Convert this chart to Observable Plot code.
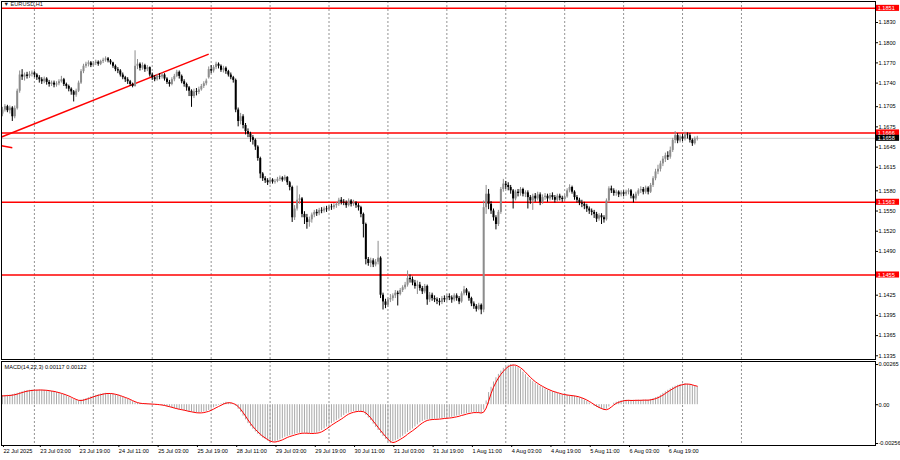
<!DOCTYPE html>
<html><head><meta charset="utf-8">
<script src="https://cdn.jsdelivr.net/npm/d3@7"></script>
<script src="https://cdn.jsdelivr.net/npm/@observablehq/plot@0.6"></script>
<style>
body{margin:0;background:#fff;}
#chart{width:900px;height:460px;overflow:hidden;}
#chart svg{display:block;}
</style></head><body><div id="chart"></div>
<script>
// ---------- DATA ----------
const symbolTitle = "\u25BC EURUSD,H1";
const macdTitle = "MACD(14,22,3) 0.00117 0.00122";

// hourly bars, index 0 = 22 Jul 2025 12:00 (weekend hours skipped)
const opens = [
1.1694,1.1700,1.1705,1.1699,1.1703,1.1690,1.1702,1.1728,1.1752,1.1749,
1.1752,1.1750,1.1753,1.1755,1.1752,1.1748,1.1745,1.1742,1.1746,1.1741,
1.1738,1.1740,1.1737,1.1739,1.1742,1.1745,1.1738,1.1735,1.1731,1.1727,
1.1722,1.1728,1.1740,1.1757,1.1765,1.1768,1.1770,1.1766,1.1769,1.1771,
1.1768,1.1772,1.1774,1.1776,1.1773,1.1770,1.1765,1.1760,1.1758,1.1752,
1.1748,1.1745,1.1742,1.1738,1.1735,1.1765,1.1768,1.1762,1.1766,1.1760,
1.1763,1.1752,1.1748,1.1745,1.1750,1.1749,1.1752,1.1746,1.1741,1.1738,
1.1745,1.1750,1.1756,1.1750,1.1742,1.1738,1.1733,1.1728,1.1720,1.1727,
1.1726,1.1730,1.1735,1.1739,1.1748,1.1760,1.1758,1.1763,1.1768,1.1765,
1.1759,1.1762,1.1757,1.1752,1.1748,1.1744,1.1700,1.1683,1.1690,1.1677,
1.1668,1.1664,1.1659,1.1655,1.1645,1.1628,1.1605,1.1598,1.1595,1.1592,
1.1596,1.1593,1.1594,1.1597,1.1599,1.1596,1.1600,1.1592,1.1585,1.1540,
1.1553,1.1566,1.1568,1.1545,1.1540,1.1533,1.1537,1.1544,1.1548,1.1546,
1.1551,1.1550,1.1553,1.1552,1.1556,1.1555,1.1558,1.1560,1.1566,1.1563,
1.1562,1.1558,1.1565,1.1560,1.1562,1.1558,1.1555,1.1545,1.1530,1.1478,
1.1472,1.1476,1.1470,1.1474,1.1480,1.1425,1.1415,1.1410,1.1418,1.1420,
1.1424,1.1428,1.1426,1.1432,1.1436,1.1440,1.1450,1.1448,1.1443,1.1438,
1.1440,1.1435,1.1430,1.1438,1.1418,1.1425,1.1420,1.1418,1.1416,1.1414,
1.1420,1.1418,1.1423,1.1421,1.1418,1.1424,1.1420,1.1415,1.1427,1.1433,
1.1428,1.1420,1.1412,1.1408,1.1404,1.1410,1.1403,1.1555,1.1575,1.1560,
1.1550,1.1540,1.1530,1.1548,1.1582,1.1590,1.1588,1.1585,1.1580,1.1568,
1.1578,1.1576,1.1582,1.1575,1.1577,1.1570,1.1565,1.1572,1.1568,1.1574,
1.1563,1.1570,1.1572,1.1568,1.1573,1.1570,1.1566,1.1572,1.1569,1.1567,
1.1571,1.1580,1.1585,1.1578,1.1570,1.1566,1.1562,1.1560,1.1557,1.1553,
1.1550,1.1548,1.1545,1.1538,1.1543,1.1540,1.1537,1.1565,1.1583,1.1580,
1.1576,1.1578,1.1574,1.1577,1.1575,1.1578,1.1580,1.1572,1.1568,1.1575,
1.1580,1.1582,1.1578,1.1584,1.1578,1.1588,1.1598,1.1608,1.1612,1.1620,
1.1627,1.1632,1.1630,1.1640,1.1655,1.1662,1.1654,1.1660,1.1657,1.1663,
1.1662,1.1655,1.1650,1.1657];
const highs = [
1.1704,1.1708,1.1707,1.1706,1.1705,1.1706,1.1731,1.1758,1.1760,1.1755,
1.1756,1.1757,1.1758,1.1757,1.1754,1.1751,1.1748,1.1749,1.1748,1.1744,
1.1743,1.1743,1.1742,1.1745,1.1750,1.1747,1.1740,1.1737,1.1733,1.1729,
1.1731,1.1743,1.1760,1.1768,1.1771,1.1773,1.1772,1.1772,1.1774,1.1773,
1.1774,1.1777,1.1779,1.1778,1.1775,1.1771,1.1767,1.1763,1.1760,1.1755,
1.1750,1.1748,1.1744,1.1740,1.1788,1.1775,1.1770,1.1770,1.1768,1.1766,
1.1764,1.1755,1.1751,1.1753,1.1754,1.1755,1.1754,1.1748,1.1744,1.1748,
1.1753,1.1759,1.1758,1.1752,1.1745,1.1740,1.1735,1.1730,1.1731,1.1732,
1.1734,1.1738,1.1742,1.1746,1.1764,1.1766,1.1766,1.1771,1.1770,1.1767,
1.1765,1.1764,1.1759,1.1755,1.1750,1.1746,1.1703,1.1695,1.1693,1.1680,
1.1672,1.1667,1.1662,1.1657,1.1647,1.1630,1.1607,1.1601,1.1598,1.1599,
1.1598,1.1597,1.1600,1.1602,1.1601,1.1603,1.1601,1.1594,1.1587,1.1558,
1.1587,1.1574,1.1570,1.1549,1.1545,1.1541,1.1547,1.1551,1.1552,1.1554,
1.1555,1.1556,1.1557,1.1559,1.1560,1.1561,1.1563,1.1569,1.1570,1.1567,
1.1565,1.1568,1.1567,1.1566,1.1564,1.1561,1.1557,1.1547,1.1532,1.1481,
1.1480,1.1479,1.1478,1.1505,1.1482,1.1428,1.1419,1.1421,1.1426,1.1427,
1.1432,1.1431,1.1435,1.1439,1.1444,1.1461,1.1455,1.1452,1.1447,1.1446,
1.1444,1.1438,1.1441,1.1440,1.1429,1.1428,1.1424,1.1421,1.1420,1.1423,
1.1424,1.1426,1.1427,1.1424,1.1427,1.1427,1.1423,1.1430,1.1438,1.1435,
1.1430,1.1422,1.1415,1.1411,1.1413,1.1412,1.1565,1.1588,1.1582,1.1564,
1.1553,1.1543,1.1551,1.1585,1.1597,1.1594,1.1592,1.1588,1.1582,1.1581,
1.1582,1.1585,1.1584,1.1580,1.1580,1.1573,1.1575,1.1576,1.1578,1.1577,
1.1574,1.1576,1.1575,1.1576,1.1577,1.1573,1.1575,1.1575,1.1572,1.1574,
1.1583,1.1589,1.1587,1.1580,1.1573,1.1569,1.1566,1.1563,1.1560,1.1556,
1.1553,1.1551,1.1548,1.1546,1.1546,1.1543,1.1568,1.1586,1.1587,1.1583,
1.1581,1.1580,1.1580,1.1580,1.1581,1.1583,1.1582,1.1575,1.1578,1.1583,
1.1586,1.1585,1.1587,1.1586,1.1591,1.1601,1.1612,1.1618,1.1624,1.1631,
1.1636,1.1638,1.1645,1.1658,1.1668,1.1665,1.1663,1.1664,1.1667,1.1666,
1.1665,1.1657,1.1660,1.1661];
const lows = [
1.1690,1.1697,1.1696,1.1694,1.1683,1.1687,1.1700,1.1725,1.1744,1.1743,
1.1746,1.1747,1.1749,1.1748,1.1744,1.1740,1.1738,1.1739,1.1737,1.1734,
1.1735,1.1733,1.1734,1.1736,1.1740,1.1735,1.1731,1.1727,1.1722,1.1712,
1.1719,1.1726,1.1738,1.1754,1.1762,1.1764,1.1763,1.1764,1.1766,1.1765,
1.1766,1.1769,1.1771,1.1770,1.1767,1.1762,1.1757,1.1754,1.1749,1.1745,
1.1741,1.1738,1.1735,1.1733,1.1734,1.1760,1.1758,1.1759,1.1756,1.1757,
1.1749,1.1744,1.1742,1.1743,1.1745,1.1746,1.1743,1.1738,1.1734,1.1736,
1.1742,1.1748,1.1746,1.1739,1.1734,1.1728,1.1720,1.1704,1.1717,1.1721,
1.1723,1.1728,1.1732,1.1736,1.1746,1.1754,1.1755,1.1760,1.1761,1.1756,
1.1755,1.1753,1.1749,1.1745,1.1740,1.1696,1.1675,1.1678,1.1672,1.1663,
1.1659,1.1652,1.1648,1.1640,1.1624,1.1598,1.1594,1.1591,1.1588,1.1589,
1.1590,1.1590,1.1592,1.1594,1.1593,1.1594,1.1588,1.1580,1.1533,1.1536,
1.1550,1.1560,1.1540,1.1530,1.1523,1.1526,1.1532,1.1540,1.1542,1.1543,
1.1546,1.1547,1.1548,1.1550,1.1551,1.1552,1.1554,1.1557,1.1559,1.1558,
1.1554,1.1556,1.1556,1.1557,1.1554,1.1550,1.1540,1.1510,1.1470,1.1468,
1.1466,1.1466,1.1467,1.1470,1.1420,1.1403,1.1405,1.1407,1.1414,1.1416,
1.1420,1.1409,1.1424,1.1429,1.1433,1.1437,1.1443,1.1439,1.1434,1.1426,
1.1431,1.1426,1.1427,1.1410,1.1414,1.1416,1.1414,1.1411,1.1409,1.1411,
1.1414,1.1415,1.1417,1.1413,1.1415,1.1416,1.1411,1.1413,1.1424,1.1424,
1.1416,1.1408,1.1404,1.1400,1.1402,1.1396,1.1399,1.1545,1.1552,1.1545,
1.1535,1.1522,1.1527,1.1545,1.1578,1.1582,1.1580,1.1575,1.1553,1.1565,
1.1571,1.1572,1.1571,1.1570,1.1553,1.1560,1.1551,1.1563,1.1565,1.1558,
1.1560,1.1566,1.1563,1.1565,1.1566,1.1562,1.1563,1.1565,1.1563,1.1564,
1.1569,1.1577,1.1575,1.1566,1.1562,1.1558,1.1555,1.1552,1.1548,1.1545,
1.1543,1.1539,1.1533,1.1535,1.1530,1.1532,1.1535,1.1562,1.1576,1.1572,
1.1572,1.1570,1.1571,1.1571,1.1572,1.1574,1.1568,1.1562,1.1565,1.1572,
1.1576,1.1574,1.1575,1.1574,1.1576,1.1585,1.1595,1.1604,1.1608,1.1616,
1.1622,1.1625,1.1627,1.1637,1.1650,1.1650,1.1651,1.1653,1.1654,1.1657,
1.1651,1.1646,1.1648,1.1654];
const closes = [
1.1700,1.1705,1.1699,1.1703,1.1690,1.1702,1.1728,1.1752,1.1749,1.1752,
1.1750,1.1753,1.1755,1.1752,1.1748,1.1745,1.1742,1.1746,1.1741,1.1738,
1.1740,1.1737,1.1739,1.1742,1.1745,1.1738,1.1735,1.1731,1.1727,1.1722,
1.1728,1.1740,1.1757,1.1765,1.1768,1.1770,1.1766,1.1769,1.1771,1.1768,
1.1772,1.1774,1.1776,1.1773,1.1770,1.1765,1.1760,1.1758,1.1752,1.1748,
1.1745,1.1742,1.1738,1.1735,1.1765,1.1768,1.1762,1.1766,1.1760,1.1763,
1.1752,1.1748,1.1745,1.1750,1.1749,1.1752,1.1746,1.1741,1.1738,1.1745,
1.1750,1.1756,1.1750,1.1742,1.1738,1.1733,1.1728,1.1720,1.1727,1.1726,
1.1730,1.1735,1.1739,1.1743,1.1760,1.1758,1.1763,1.1768,1.1765,1.1759,
1.1762,1.1757,1.1752,1.1748,1.1744,1.1700,1.1683,1.1690,1.1677,1.1668,
1.1664,1.1659,1.1655,1.1645,1.1628,1.1605,1.1598,1.1595,1.1592,1.1596,
1.1593,1.1594,1.1597,1.1599,1.1596,1.1600,1.1592,1.1585,1.1540,1.1553,
1.1566,1.1568,1.1545,1.1540,1.1533,1.1537,1.1544,1.1548,1.1546,1.1551,
1.1550,1.1553,1.1552,1.1556,1.1555,1.1558,1.1560,1.1566,1.1563,1.1562,
1.1558,1.1565,1.1560,1.1562,1.1558,1.1555,1.1545,1.1530,1.1478,1.1472,
1.1476,1.1470,1.1474,1.1480,1.1425,1.1415,1.1410,1.1418,1.1420,1.1424,
1.1428,1.1426,1.1432,1.1436,1.1440,1.1450,1.1448,1.1443,1.1438,1.1440,
1.1435,1.1430,1.1438,1.1418,1.1425,1.1420,1.1418,1.1416,1.1414,1.1420,
1.1418,1.1423,1.1421,1.1418,1.1424,1.1420,1.1415,1.1427,1.1433,1.1428,
1.1420,1.1412,1.1408,1.1404,1.1410,1.1403,1.1555,1.1575,1.1560,1.1550,
1.1540,1.1530,1.1548,1.1582,1.1590,1.1588,1.1585,1.1580,1.1568,1.1578,
1.1576,1.1582,1.1575,1.1577,1.1570,1.1565,1.1572,1.1568,1.1574,1.1563,
1.1570,1.1572,1.1568,1.1573,1.1570,1.1566,1.1572,1.1569,1.1567,1.1571,
1.1580,1.1585,1.1578,1.1570,1.1566,1.1562,1.1560,1.1557,1.1553,1.1550,
1.1548,1.1545,1.1538,1.1543,1.1540,1.1537,1.1565,1.1583,1.1580,1.1576,
1.1578,1.1574,1.1577,1.1575,1.1578,1.1580,1.1572,1.1568,1.1575,1.1580,
1.1582,1.1578,1.1584,1.1578,1.1588,1.1598,1.1608,1.1612,1.1620,1.1627,
1.1632,1.1630,1.1640,1.1655,1.1662,1.1654,1.1660,1.1657,1.1663,1.1662,
1.1655,1.1650,1.1657,1.1658];

// MACD(14,22,3): main (histogram) and signal (red line), per bar
const macdMain = [
60e-5,61e-5,62e-5,63e-5,67e-5,71e-5,75e-5,80e-5,85e-5,90e-5,
93e-5,95e-5,96e-5,97e-5,97e-5,97e-5,96e-5,95e-5,93e-5,91e-5,
88e-5,85e-5,80e-5,75e-5,70e-5,65e-5,58e-5,50e-5,40e-5,33e-5,
28e-5,25e-5,30e-5,35e-5,40e-5,46e-5,52e-5,57e-5,62e-5,66e-5,
70e-5,73e-5,75e-5,74e-5,72e-5,70e-5,65e-5,60e-5,55e-5,48e-5,
42e-5,35e-5,27e-5,20e-5,12e-5,10e-5,8e-5,7e-5,6e-5,5e-5,
4e-5,3e-5,2e-5,0,-2e-5,-5e-5,-9e-5,-13e-5,-17e-5,-22e-5,
-26e-5,-30e-5,-33e-5,-36e-5,-40e-5,-44e-5,-47e-5,-50e-5,-53e-5,-55e-5,
-55e-5,-52e-5,-48e-5,-45e-5,-38e-5,-30e-5,-20e-5,-12e-5,-4e-5,5e-5,
10e-5,16e-5,14e-5,8e-5,3e-5,-10e-5,-30e-5,-50e-5,-75e-5,-100e-5,
-125e-5,-145e-5,-162e-5,-180e-5,-195e-5,-208e-5,-220e-5,-230e-5,-240e-5,-248e-5,
-246e-5,-243e-5,-240e-5,-232e-5,-224e-5,-215e-5,-210e-5,-205e-5,-200e-5,-195e-5,
-190e-5,-188e-5,-187e-5,-188e-5,-190e-5,-190e-5,-189e-5,-188e-5,-188e-5,-180e-5,
-170e-5,-160e-5,-148e-5,-136e-5,-125e-5,-115e-5,-105e-5,-95e-5,-84e-5,-72e-5,
-60e-5,-55e-5,-50e-5,-45e-5,-44e-5,-44e-5,-45e-5,-48e-5,-70e-5,-88e-5,
-105e-5,-128e-5,-150e-5,-170e-5,-190e-5,-210e-5,-228e-5,-245e-5,-256e-5,-245e-5,
-238e-5,-230e-5,-220e-5,-208e-5,-195e-5,-183e-5,-172e-5,-160e-5,-147e-5,-133e-5,
-120e-5,-110e-5,-103e-5,-100e-5,-98e-5,-97e-5,-96e-5,-95e-5,-93e-5,-91e-5,
-89e-5,-88e-5,-86e-5,-83e-5,-80e-5,-75e-5,-71e-5,-66e-5,-62e-5,-58e-5,
-55e-5,-52e-5,-50e-5,-52e-5,-55e-5,-58e-5,-35e-5,25e-5,80e-5,115e-5,
150e-5,178e-5,200e-5,222e-5,240e-5,252e-5,260e-5,265e-5,262e-5,255e-5,
245e-5,232e-5,215e-5,198e-5,180e-5,165e-5,152e-5,140e-5,130e-5,120e-5,
112e-5,104e-5,96e-5,90e-5,85e-5,80e-5,75e-5,70e-5,66e-5,64e-5,
62e-5,60e-5,58e-5,56e-5,50e-5,45e-5,40e-5,32e-5,22e-5,12e-5,
2e-5,-10e-5,-18e-5,-25e-5,-32e-5,-36e-5,-30e-5,-15e-5,0,10e-5,
16e-5,22e-5,26e-5,29e-5,29e-5,28e-5,28e-5,29e-5,29e-5,30e-5,
29e-5,30e-5,31e-5,30e-5,35e-5,40e-5,46e-5,52e-5,63e-5,75e-5,
85e-5,95e-5,105e-5,115e-5,122e-5,128e-5,133e-5,136e-5,138e-5,135e-5,
131e-5,126e-5,121e-5,117e-5];
const macdSignal = [
58e-5,59e-5,60e-5,61e-5,63e-5,66e-5,70e-5,75e-5,80e-5,85e-5,
89e-5,92e-5,94e-5,96e-5,96e-5,97e-5,97e-5,96e-5,95e-5,93e-5,
90e-5,88e-5,84e-5,80e-5,75e-5,70e-5,64e-5,58e-5,50e-5,42e-5,
35e-5,29e-5,28e-5,30e-5,35e-5,40e-5,46e-5,52e-5,57e-5,62e-5,
66e-5,70e-5,73e-5,74e-5,74e-5,72e-5,69e-5,65e-5,60e-5,54e-5,
48e-5,42e-5,35e-5,27e-5,20e-5,14e-5,10e-5,8e-5,7e-5,6e-5,
5e-5,4e-5,3e-5,2e-5,0,-2e-5,-5e-5,-9e-5,-13e-5,-17e-5,
-22e-5,-26e-5,-30e-5,-33e-5,-36e-5,-40e-5,-44e-5,-47e-5,-50e-5,-53e-5,
-54e-5,-54e-5,-52e-5,-48e-5,-44e-5,-37e-5,-29e-5,-20e-5,-12e-5,-4e-5,
4e-5,10e-5,13e-5,13e-5,8e-5,1e-5,-12e-5,-30e-5,-52e-5,-75e-5,
-100e-5,-123e-5,-144e-5,-162e-5,-179e-5,-194e-5,-208e-5,-219e-5,-230e-5,-239e-5,
-245e-5,-246e-5,-243e-5,-238e-5,-232e-5,-224e-5,-216e-5,-210e-5,-205e-5,-200e-5,
-195e-5,-191e-5,-188e-5,-188e-5,-188e-5,-189e-5,-190e-5,-189e-5,-188e-5,-185e-5,
-179e-5,-170e-5,-159e-5,-148e-5,-136e-5,-125e-5,-115e-5,-105e-5,-95e-5,-84e-5,
-72e-5,-62e-5,-55e-5,-50e-5,-46e-5,-44e-5,-44e-5,-46e-5,-54e-5,-69e-5,
-87e-5,-108e-5,-128e-5,-149e-5,-170e-5,-190e-5,-209e-5,-228e-5,-243e-5,-250e-5,
-246e-5,-238e-5,-229e-5,-219e-5,-208e-5,-195e-5,-183e-5,-172e-5,-160e-5,-147e-5,
-133e-5,-121e-5,-111e-5,-104e-5,-100e-5,-98e-5,-97e-5,-96e-5,-95e-5,-93e-5,
-91e-5,-89e-5,-88e-5,-86e-5,-83e-5,-80e-5,-76e-5,-71e-5,-67e-5,-62e-5,
-58e-5,-55e-5,-52e-5,-52e-5,-52e-5,-55e-5,-49e-5,-23e-5,23e-5,73e-5,
115e-5,148e-5,176e-5,200e-5,220e-5,238e-5,251e-5,259e-5,262e-5,261e-5,
254e-5,244e-5,231e-5,215e-5,198e-5,181e-5,166e-5,152e-5,141e-5,130e-5,
121e-5,112e-5,104e-5,97e-5,90e-5,85e-5,80e-5,75e-5,70e-5,67e-5,
64e-5,62e-5,60e-5,58e-5,55e-5,51e-5,45e-5,39e-5,31e-5,22e-5,
12e-5,1e-5,-9e-5,-18e-5,-25e-5,-31e-5,-33e-5,-27e-5,-15e-5,-2e-5,
9e-5,16e-5,21e-5,26e-5,28e-5,29e-5,28e-5,28e-5,29e-5,29e-5,
29e-5,30e-5,30e-5,30e-5,32e-5,35e-5,40e-5,46e-5,54e-5,63e-5,
74e-5,85e-5,95e-5,105e-5,114e-5,122e-5,128e-5,132e-5,136e-5,136e-5,
135e-5,131e-5,126e-5,122e-5];

// horizontal levels, bid line, trendlines
const levelPrices = [1.1851, 1.1666, 1.1563, 1.1455];
const bidPrice = 1.1658;
const trendStartIdx = [-0.4, -0.4];
const trendStartPrice = [1.1660, 1.1647];
const trendEndIdx = [84, 4];
const trendEndPrice = [1.1783, 1.1644];

// axis ticks
const priceTicks = [1.1830,1.1800,1.1770,1.1740,1.1705,1.1675,1.1645,1.1615,1.1580,1.1550,1.1520,1.1490,1.1425,1.1395,1.1365,1.1335];
const macdTicks = [0.00265, 0, -0.00256];
const macdTickLabels = ["0.00265", "0.00", "-0.00256"];
const timeTickIdx = [0,15,31,47,63,79,95,111,127,143,159,175,191,207,223,239,255,271];
const timeTickLabels = ["22 Jul 2025","23 Jul 03:00","23 Jul 19:00","24 Jul 11:00","25 Jul 03:00","25 Jul 19:00","28 Jul 11:00","29 Jul 03:00","29 Jul 19:00","30 Jul 11:00","31 Jul 03:00","31 Jul 19:00","1 Aug 11:00","4 Aug 03:00","4 Aug 19:00","5 Aug 11:00","6 Aug 03:00","6 Aug 19:00"];
const gridIdx = [13,37,61,85,109,133,157,181,205,229,253,277,301];

// ---------- CHART ----------
const FONT = "'Liberation Sans', Arial, sans-serif";
const FS = 5.6;
const UP = "#8c8c8c", DOWN = "#000000", RED = "#ff0000";
const X_DOMAIN = [-0.4, 355.6];
const TAG_X0 = X_DOMAIN[1] + 0.4, TAG_X1 = X_DOMAIN[1] + 9.8, TAG_HALF = 0.00045;

const bars = closes.map((c, i) => ({i, o: opens[i], h: highs[i], l: lows[i], c}));
const upBars = bars.filter(d => d.c >= d.o);
const downBars = bars.filter(d => d.c < d.o);
const trends = trendStartIdx.map((x, k) => ({x1: x, y1: trendStartPrice[k], x2: trendEndIdx[k], y2: trendEndPrice[k]}));
const macdData = macdMain.map((m, i) => ({i, m, s: macdSignal[i]}));
const fmt4 = d3.format(".4f");

const tagMarks = (vals, fill) => [
  Plot.rect(vals, {x1: () => TAG_X0, x2: () => TAG_X1, y1: d => d - TAG_HALF, y2: d => d + TAG_HALF, fill}),
  Plot.text(vals, {x: () => TAG_X0, y: d => d, dx: 1.2, text: d => fmt4(d), fill: "#fff", textAnchor: "start", fontSize: FS})
];

const main = Plot.plot({
  width: 900, height: 360,
  marginLeft: 1, marginRight: 25, marginTop: 1, marginBottom: 1,
  style: {fontFamily: FONT, fontSize: FS + "px", background: "#fff", color: "#000"},
  x: {domain: X_DOMAIN, axis: null},
  y: {domain: [1.13295, 1.18612], axis: null},
  marks: [
    Plot.ruleX(gridIdx, {stroke: "#777", strokeWidth: 0.8, strokeDasharray: "2,2"}),
    Plot.ruleY([bidPrice], {stroke: "#c8c8c8", strokeWidth: 1}),
    Plot.ruleY(levelPrices, {stroke: RED, strokeWidth: 1.5}),
    Plot.link(trends, {x1: "x1", y1: "y1", x2: "x2", y2: "y2", stroke: RED, strokeWidth: 1.5}),
    Plot.ruleX(upBars, {x: "i", y1: "l", y2: "h", stroke: UP, strokeWidth: 1}),
    Plot.ruleX(downBars, {x: "i", y1: "l", y2: "h", stroke: DOWN, strokeWidth: 1}),
    Plot.ruleX(upBars, {x: "i", y1: "o", y2: "c", stroke: UP, strokeWidth: 2}),
    Plot.ruleX(downBars, {x: "i", y1: "o", y2: "c", stroke: DOWN, strokeWidth: 2}),
    Plot.frame({stroke: "#000", strokeWidth: 1}),
    Plot.axisY({anchor: "right", ticks: priceTicks, tickFormat: fmt4, tickSize: 2, tickPadding: 1, label: null, fontSize: FS}),
    ...tagMarks(levelPrices, RED),
    ...tagMarks([bidPrice], "#000"),
    Plot.text([symbolTitle], {frameAnchor: "top-left", dx: 2, dy: 1, lineAnchor: "top", textAnchor: "start", text: d => d, fill: "#222", fontSize: FS})
  ]
});

const macdPlot = Plot.plot({
  width: 900, height: 100,
  marginLeft: 1, marginRight: 25, marginTop: 1, marginBottom: 15,
  style: {fontFamily: FONT, fontSize: FS + "px", background: "#fff", color: "#000"},
  x: {domain: X_DOMAIN},
  y: {domain: [-0.00269, 0.00285]},
  marks: [
    Plot.ruleX(gridIdx, {stroke: "#777", strokeWidth: 0.8, strokeDasharray: "2,2"}),
    Plot.ruleX(macdData, {x: "i", y1: 0, y2: "m", stroke: "#a8a8a8", strokeWidth: 1}),
    Plot.line(macdData, {x: "i", y: "s", stroke: RED, strokeWidth: 1}),
    Plot.frame({stroke: "#000", strokeWidth: 1}),
    Plot.axisY({anchor: "right", ticks: macdTicks, tickFormat: d => macdTickLabels[macdTicks.indexOf(d)], tickSize: 2, tickPadding: 1, label: null, fontSize: FS}),
    Plot.axisX({ticks: timeTickIdx, tickFormat: d => timeTickLabels[timeTickIdx.indexOf(d)], textAnchor: "start", tickSize: 2, tickPadding: 2, dx: 1, label: null, fontSize: FS}),
    Plot.text([macdTitle], {frameAnchor: "top-left", dx: 3, dy: 4, lineAnchor: "top", textAnchor: "start", text: d => d, fill: "#000", fontSize: FS})
  ]
});

const root = document.getElementById("chart");
root.appendChild(main);
root.appendChild(macdPlot);
</script>
</body></html>
